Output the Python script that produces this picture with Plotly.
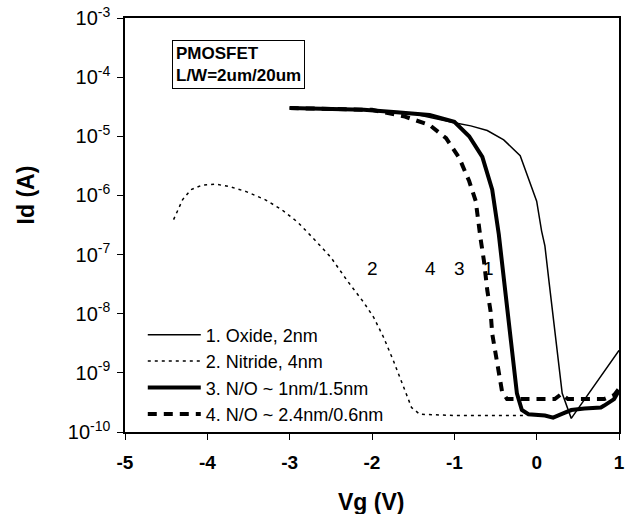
import plotly.graph_objects as go

# ---- data ----
vg_oxide = [-3.0, -2.5, -2.0, -1.5, -1.0, -0.8, -0.6, -0.4, -0.2, -0.1, 0.0, 0.06, 0.1, 0.15, 0.2, 0.25, 0.31, 0.42, 1.0]
id_oxide = [3.0e-5, 2.95e-5, 2.75e-5, 2.4e-5, 1.7e-5, 1.5e-5, 1.25e-5, 8.7e-6, 4.7e-6, 1.9e-6, 8.0e-7, 2.5e-7,
            1.4e-7, 3.5e-8, 8.7e-9, 2.0e-9, 4.5e-10, 1.7e-10, 2.4e-9]

vg_nitride = [-4.41, -4.30, -4.20, -4.06, -3.90, -3.72, -3.52, -3.30, -3.10, -2.90, -2.70, -2.50, -2.30, -2.10,
              -1.98, -1.86, -1.74, -1.62, -1.52, -1.42, -1.0, -0.5, -0.12]
id_nitride = [3.9e-7, 8.5e-7, 1.25e-6, 1.5e-6, 1.55e-6, 1.4e-6, 1.15e-6, 8.5e-7, 5.8e-7, 3.5e-7, 1.8e-7, 9.0e-8,
              3.6e-8, 1.55e-8, 8.7e-9, 4.0e-9, 1.6e-9, 5.8e-10, 2.6e-10, 2.0e-10, 1.9e-10, 1.9e-10, 1.9e-10]

vg_no1 = [-3.0, -2.5, -2.1, -1.7, -1.3, -1.0, -0.82, -0.66, -0.54, -0.46, -0.40, -0.36, -0.30, -0.24, -0.18, -0.10,
          0.1, 0.2, 0.3, 0.42, 0.58, 0.78, 0.82, 0.94, 1.0]
id_no1 = [3.0e-5, 2.95e-5, 2.8e-5, 2.55e-5, 2.3e-5, 1.75e-5, 1.0e-5, 4.5e-6, 1.25e-6, 2.2e-7, 4.0e-8, 1.25e-8,
          1.8e-9, 4.5e-10, 2.35e-10, 2.0e-10, 1.9e-10, 1.75e-10, 2.0e-10, 2.35e-10, 2.5e-10, 2.6e-10, 2.8e-10,
          3.6e-10, 5.0e-10]

vg_no2 = [-3.0, -2.5, -2.0, -1.6, -1.3, -1.1, -0.94, -0.82, -0.74, -0.68, -0.64, -0.60, -0.56, -0.54, -0.50, -0.46,
          -0.42, -0.36, 0.0, 0.22, 0.30, 0.38, 0.82, 0.94, 1.0]
id_no2 = [3.0e-5, 2.95e-5, 2.8e-5, 2.15e-5, 1.55e-5, 9.3e-6, 4.3e-6, 1.75e-6, 8.0e-7, 1.8e-7, 7.8e-8, 2.5e-8,
          1.1e-8, 4.6e-9, 2.1e-9, 1.0e-9, 4.8e-10, 3.6e-10, 3.6e-10, 3.6e-10, 4.4e-10, 3.6e-10, 3.6e-10,
          4.2e-10, 5.4e-10]

series_names = ["1. Oxide, 2nm", "2. Nitride, 4nm", "3. N/O ~ 1nm/1.5nm", "4. N/O ~ 2.4nm/0.6nm"]

x_ticks = [-5, -4, -3, -2, -1, 0, 1]
x_ticktext = ["-5", "-4", "-3", "-2", "-1", "0", "1"]
y_exps = [-10, -9, -8, -7, -6, -5, -4, -3]
y_tickvals = [10.0 ** e for e in y_exps]
y_ticktext = ["10<sup>%d</sup>" % e for e in y_exps]

curve_labels = ["2", "4", "3", "1"]
curve_label_x = [-2.0, -1.29, -0.94, -0.58]
curve_label_logy = [-7.24, -7.24, -7.24, -7.24]

x_title = "Vg (V)"
y_title = "Id (A)"

# ---- figure ----
FONT = "Liberation Sans, Arial, sans-serif"
fig = go.Figure()
fig.add_trace(go.Scatter(x=vg_oxide, y=id_oxide, mode="lines", name=series_names[0],
                         line=dict(color="black", width=1.5)))
fig.add_trace(go.Scatter(x=vg_nitride, y=id_nitride, mode="lines", name=series_names[1],
                         line=dict(color="black", width=1.5, dash="3px,4px")))
fig.add_trace(go.Scatter(x=vg_no1, y=id_no1, mode="lines", name=series_names[2],
                         line=dict(color="black", width=4)))
fig.add_trace(go.Scatter(x=vg_no2, y=id_no2, mode="lines", name=series_names[3],
                         line=dict(color="black", width=4, dash="9px,7px")))

for t, x, ly in zip(curve_labels, curve_label_x, curve_label_logy):
    fig.add_annotation(x=x, y=ly, xref="x", yref="y", text=t, showarrow=False,
                       font=dict(family=FONT, size=19, color="black"))

fig.add_annotation(x=0.096, y=0.948, xref="paper", yref="paper", xanchor="left", yanchor="top",
                   text="<b>PMOSFET</b><br><b>L/W=2um/20um</b>", align="left", showarrow=False,
                   font=dict(family=FONT, size=17, color="black"),
                   bordercolor="black", borderwidth=1, borderpad=3, bgcolor="white")

# axis titles
fig.add_annotation(x=0.498, y=-0.168, xref="paper", yref="paper", xanchor="center", yanchor="middle",
                   text=x_title, showarrow=False,
                   font=dict(family=FONT, size=23, weight="bold", color="black"))
fig.add_annotation(x=-0.20, y=0.572, xref="paper", yref="paper", xanchor="center", yanchor="middle",
                   text=y_title, showarrow=False, textangle=-90,
                   font=dict(family=FONT, size=23, weight="bold", color="black"))

fig.update_layout(
    width=629, height=514,
    margin=dict(l=125, r=4, t=16, b=82),
    paper_bgcolor="white", plot_bgcolor="white",
    font=dict(family=FONT, color="black"),
    showlegend=True,
    legend=dict(x=0.036, y=0.279, xanchor="left", yanchor="top", bgcolor="rgba(0,0,0,0)",
                font=dict(family=FONT, size=18, color="black"), itemwidth=53, tracegroupgap=0),
    xaxis=dict(range=[-5, 1], tickvals=x_ticks, ticktext=x_ticktext, showgrid=False, zeroline=False,
               showline=True, linecolor="black", linewidth=1.5, mirror=True,
               ticks="outside", ticklen=6, tickcolor="black", ticklabelstandoff=6,
               tickfont=dict(family=FONT, size=19, weight="bold")),
    yaxis=dict(type="log", range=[-10, -3], tickvals=y_tickvals, ticktext=y_ticktext,
               showgrid=False, zeroline=False,
               showline=True, linecolor="black", linewidth=1.5, mirror=True,
               ticks="outside", ticklen=6, tickcolor="black", ticklabelstandoff=3,
               tickfont=dict(family=FONT, size=20)),
)

fig.write_html("out.html", config={"displayModeBar": False},
               post_script="document.body.style.margin='0px';")
